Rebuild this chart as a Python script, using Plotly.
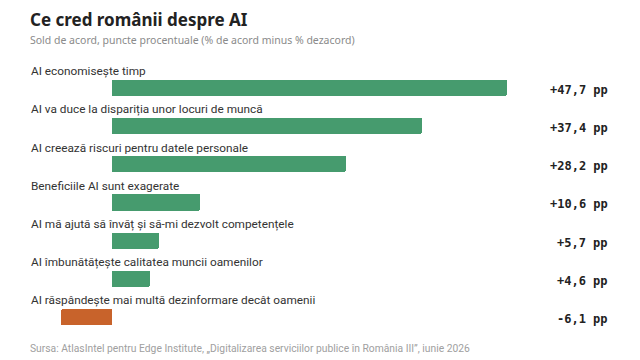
import plotly.graph_objects as go

categories = [
    "AI economisește timp",
    "AI va duce la dispariția unor locuri de muncă",
    "AI creează riscuri pentru datele personale",
    "Beneficiile AI sunt exagerate",
    "AI mă ajută să învăț și să-mi dezvolt competențele",
    "AI îmbunătățește calitatea muncii oamenilor",
    "AI răspândește mai multă dezinformare decât oamenii",
]
values = [47.7, 37.4, 28.2, 10.6, 5.7, 4.6, -6.1]
value_labels = [("+" if v > 0 else "-") + f"{abs(v):.1f}".replace(".", ",") + " pp" for v in values]

title = "Ce cred românii despre AI"
subtitle = "Sold de acord, puncte procentuale (% de acord minus % dezacord)"
source = "Sursa: AtlasIntel pentru Edge Institute, „Digitalizarea serviciilor publice în România III”, iunie 2026"

GREEN = "#469b6e"
ORANGE = "#c8632b"
colors = [GREEN if v >= 0 else ORANGE for v in values]
pos = list(range(len(categories)))

W, H = 640, 360
fig = go.Figure()
fig.add_trace(go.Bar(
    x=values, y=pos, orientation="h",
    marker=dict(color=colors, line=dict(width=0), cornerradius=2),
    width=0.42, hoverinfo="skip",
))

label_font = dict(family="Roboto, sans-serif", size=11.8, color="#333333")
for i, (c, lab) in enumerate(zip(categories, value_labels)):
    fig.add_annotation(x=29 / W, xref="paper", y=i - 0.44, yref="y", text=c,
                       showarrow=False, xanchor="left", yanchor="middle", font=label_font)
    fig.add_annotation(x=610 / W, xref="paper", y=i + 0.05, yref="y", text="<b>" + lab + "</b>",
                       showarrow=False, xanchor="right", yanchor="middle",
                       font=dict(family="DejaVu Sans Mono, monospace", size=12, color="#222222"))

fig.add_annotation(x=28 / W, xref="paper", y=1 - 19 / H, yref="paper", text="<b>" + title + "</b>",
                   showarrow=False, xanchor="left", yanchor="middle",
                   font=dict(family="Noto Sans, sans-serif", size=17, color="#222222"))
fig.add_annotation(x=28 / W, xref="paper", y=1 - 40 / H, yref="paper", text=subtitle,
                   showarrow=False, xanchor="left", yanchor="middle",
                   font=dict(family="Noto Sans, sans-serif", size=10.5, color="#8a8a8a"))
fig.add_annotation(x=28 / W, xref="paper", y=1 - 348 / H, yref="paper", text=source,
                   showarrow=False, xanchor="left", yanchor="middle",
                   font=dict(family="Roboto, sans-serif", size=10.3, color="#a0a0a0"))

pxu = 395 / 47.7
ppu = 229 / 6
fig.update_layout(
    width=W, height=H, margin=dict(l=0, r=0, t=0, b=0),
    paper_bgcolor="white", plot_bgcolor="white", showlegend=False,
    xaxis=dict(range=[-112 / pxu, (W - 112) / pxu], visible=False, fixedrange=True),
    yaxis=dict(range=[(H - 88) / ppu, -88 / ppu], visible=False, fixedrange=True),
    bargap=0,
)
fig.write_html("out.html")
